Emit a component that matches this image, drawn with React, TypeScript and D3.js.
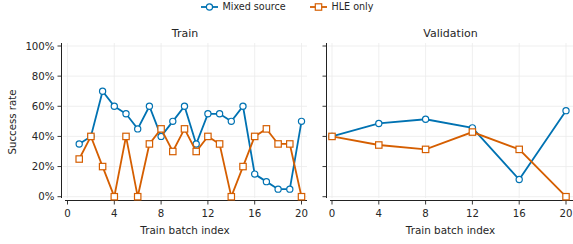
import { useEffect, useRef } from "react";
import * as d3 from "d3";

// Train panel: success rate (%) per train batch
const trainBatches = [1, 2, 3, 4, 5, 6, 7, 8, 9, 10, 11, 12, 13, 14, 15, 16, 17, 18, 19, 20];
const trainMixed = [35, 40, 70, 60, 55, 45, 60, 40, 50, 60, 35, 55, 55, 50, 60, 15, 10, 5, 5, 50];
const trainHle = [25, 40, 20, 0, 40, 0, 35, 45, 30, 45, 30, 40, 35, 0, 20, 40, 45, 35, 35, 0];

// Validation panel: evaluated every 4 batches
const valBatches = [0, 4, 8, 12, 16, 20];
const valMixed = [40, 48.6, 51.4, 45.7, 11.4, 57.1];
const valHle = [40, 34.3, 31.4, 42.9, 31.4, 0];

const xTicks = [0, 4, 8, 12, 16, 20];
const yTicks = [0, 20, 40, 60, 80, 100];

const BLUE = "#0072b2";
const ORANGE = "#d55e00";
const FONT = "DejaVu Sans, sans-serif";

type Series = { name: string; color: string; marker: "circle" | "square"; xs: number[]; ys: number[] };

export default function App() {
  const ref = useRef<SVGSVGElement | null>(null);

  useEffect(() => {
    const svg = d3.select(ref.current);
    svg.selectAll("*").remove();

    const panels = [
      {
        title: "Train",
        left: 63,
        right: 307,
        spineX: 61.5,
        x0: 67.5,
        showYLabels: true,
        series: [
          { name: "Mixed source", color: BLUE, marker: "circle", xs: trainBatches, ys: trainMixed },
          { name: "HLE only", color: ORANGE, marker: "square", xs: trainBatches, ys: trainHle },
        ] as Series[],
      },
      {
        title: "Validation",
        left: 328,
        right: 573,
        spineX: 326.5,
        x0: 332,
        showYLabels: false,
        series: [
          { name: "Mixed source", color: BLUE, marker: "circle", xs: valBatches, ys: valMixed },
          { name: "HLE only", color: ORANGE, marker: "square", xs: valBatches, ys: valHle },
        ] as Series[],
      },
    ];

    const top = 43;
    const bottom = 198;
    const y = d3.scaleLinear().domain([0, 100]).range([196.7, 46]);

    panels.forEach((p) => {
      const x = d3.scaleLinear().domain([0, 20]).range([p.x0, p.x0 + 234]);
      const g = svg.append("g");

      // grid
      g.selectAll(".hgrid")
        .data(yTicks)
        .join("line")
        .attr("x1", p.left)
        .attr("x2", p.right)
        .attr("y1", (d) => y(d))
        .attr("y2", (d) => y(d))
        .attr("stroke", "#ebebeb")
        .attr("stroke-width", 0.8);
      g.selectAll(".vgrid")
        .data(xTicks)
        .join("line")
        .attr("x1", (d) => x(d))
        .attr("x2", (d) => x(d))
        .attr("y1", top)
        .attr("y2", bottom)
        .attr("stroke", "#ebebeb")
        .attr("stroke-width", 0.8);

      // spines
      g.append("line")
        .attr("x1", p.spineX)
        .attr("x2", p.spineX)
        .attr("y1", top)
        .attr("y2", bottom)
        .attr("stroke", "#222")
        .attr("stroke-width", 1);
      g.append("line")
        .attr("x1", p.left + 2)
        .attr("x2", p.right)
        .attr("y1", 200.5)
        .attr("y2", 200.5)
        .attr("stroke", "#222")
        .attr("stroke-width", 1);

      // y ticks
      g.selectAll(".ytick")
        .data(yTicks)
        .join("line")
        .attr("x1", p.spineX - 4)
        .attr("x2", p.spineX)
        .attr("y1", (d) => y(d))
        .attr("y2", (d) => y(d))
        .attr("stroke", "#222")
        .attr("stroke-width", 0.9);
      if (p.showYLabels) {
        g.selectAll(".ylab")
          .data(yTicks)
          .join("text")
          .attr("x", p.spineX - 7)
          .attr("y", (d) => y(d) + 3.6)
          .attr("text-anchor", "end")
          .attr("font-family", FONT)
          .attr("font-size", 10.2)
          .attr("fill", "#262626")
          .text((d) => `${d}%`);
      }

      // x ticks
      g.selectAll(".xtick")
        .data(xTicks)
        .join("line")
        .attr("x1", (d) => x(d))
        .attr("x2", (d) => x(d))
        .attr("y1", 200.5)
        .attr("y2", 204.5)
        .attr("stroke", "#222")
        .attr("stroke-width", 0.9);
      g.selectAll(".xlab")
        .data(xTicks)
        .join("text")
        .attr("x", (d) => x(d))
        .attr("y", 217.3)
        .attr("text-anchor", "middle")
        .attr("font-family", FONT)
        .attr("font-size", 10.2)
        .attr("fill", "#262626")
        .text((d) => d);

      g.append("text")
        .attr("x", (p.left + p.right) / 2)
        .attr("y", 233.5)
        .attr("text-anchor", "middle")
        .attr("font-family", FONT)
        .attr("font-size", 10.4)
        .attr("fill", "#262626")
        .text("Train batch index");

      g.append("text")
        .attr("x", (p.left + p.right) / 2)
        .attr("y", 36.5)
        .attr("text-anchor", "middle")
        .attr("font-family", FONT)
        .attr("font-size", 11)
        .attr("fill", "#262626")
        .text(p.title);

      // series
      p.series.forEach((s) => {
        const pts = s.xs.map((v, i) => [x(v), y(s.ys[i])] as [number, number]);
        g.append("path")
          .attr("d", d3.line()(pts))
          .attr("fill", "none")
          .attr("stroke", s.color)
          .attr("stroke-width", 1.8);
        if (s.marker === "circle") {
          g.selectAll(null)
            .data(pts)
            .join("circle")
            .attr("cx", (d) => d[0])
            .attr("cy", (d) => d[1])
            .attr("r", 3.1)
            .attr("fill", "white")
            .attr("stroke", s.color)
            .attr("stroke-width", 1.2);
        } else {
          g.selectAll(null)
            .data(pts)
            .join("rect")
            .attr("x", (d) => d[0] - 3.2)
            .attr("y", (d) => d[1] - 3.2)
            .attr("width", 6.4)
            .attr("height", 6.4)
            .attr("fill", "white")
            .attr("stroke", s.color)
            .attr("stroke-width", 1.2);
        }
      });
    });

    // y label
    svg
      .append("text")
      .attr("transform", "translate(16,122) rotate(-90)")
      .attr("text-anchor", "middle")
      .attr("font-family", FONT)
      .attr("font-size", 10.2)
      .attr("fill", "#262626")
      .text("Success rate");

    // legend
    const legend = [
      { name: "Mixed source", color: BLUE, marker: "circle", x: 201 },
      { name: "HLE only", color: ORANGE, marker: "square", x: 310 },
    ];
    legend.forEach((l) => {
      const lg = svg.append("g");
      lg.append("line")
        .attr("x1", l.x)
        .attr("x2", l.x + 17)
        .attr("y1", 7)
        .attr("y2", 7)
        .attr("stroke", l.color)
        .attr("stroke-width", 1.8);
      if (l.marker === "circle") {
        lg.append("circle")
          .attr("cx", l.x + 8.5)
          .attr("cy", 7)
          .attr("r", 3.1)
          .attr("fill", "white")
          .attr("stroke", l.color)
          .attr("stroke-width", 1.2);
      } else {
        lg.append("rect")
          .attr("x", l.x + 5.3)
          .attr("y", 3.8)
          .attr("width", 6.4)
          .attr("height", 6.4)
          .attr("fill", "white")
          .attr("stroke", l.color)
          .attr("stroke-width", 1.2);
      }
      lg.append("text")
        .attr("x", l.x + 21.5)
        .attr("y", 10.4)
        .attr("font-family", FONT)
        .attr("font-size", 9.6)
        .attr("fill", "#262626")
        .text(l.name);
    });
  }, []);

  return (
    <svg
      ref={ref}
      width={573}
      height={244}
      style={{ position: "absolute", left: 0, top: 0, background: "white" }}
    />
  );
}
